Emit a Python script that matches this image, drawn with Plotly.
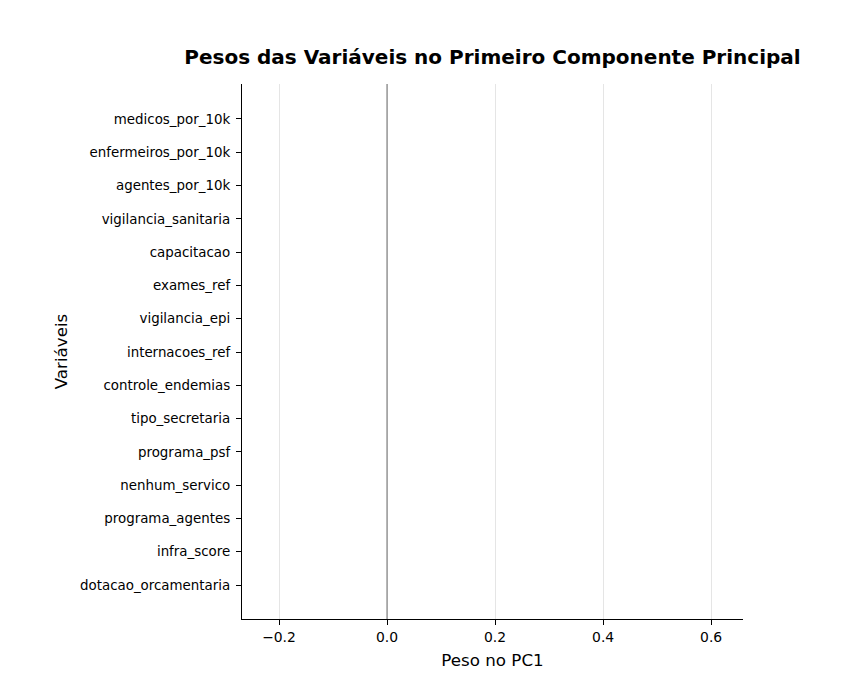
import plotly.graph_objects as go

variables = [
    "medicos_por_10k", "enfermeiros_por_10k", "agentes_por_10k",
    "vigilancia_sanitaria", "capacitacao", "exames_ref", "vigilancia_epi",
    "internacoes_ref", "controle_endemias", "tipo_secretaria", "programa_psf",
    "nenhum_servico", "programa_agentes", "infra_score", "dotacao_orcamentaria",
]
# No bars are visible in the reference; weights cannot be read
pesos = [None] * len(variables)

x_ticks = [-0.2, 0.0, 0.2, 0.4, 0.6]
x_ticklabels = ["\u22120.2", "0.0", "0.2", "0.4", "0.6"]

FONT = "DejaVu Sans"
W, H = 864, 696
OFF = 8  # page body margin
L, R, T, B = 242, 743, 84, 619  # target plot-area pixel bounds in the screenshot

fig = go.Figure()
fig.add_trace(go.Bar(
    x=pesos, y=list(range(len(variables))), orientation="h",
    marker_color="rgba(0,0,0,0)", showlegend=False,
))
fig.add_vline(x=0, line_color="#808080", line_width=1.2)

fig.update_layout(
    width=W, height=H,
    margin=dict(l=L - OFF, r=W + OFF - R, t=T - OFF, b=H + OFF - B, pad=0),
    paper_bgcolor="white", plot_bgcolor="white",
    font=dict(family=FONT, color="black"),
    title=dict(text="<b>Pesos das Variáveis no Primeiro Componente Principal</b>",
               x=((L + R) / 2 - OFF) / W, xanchor="center",
               y=1 - (57 - OFF) / H, yanchor="middle",
               font=dict(size=20, family=FONT)),
    xaxis=dict(
        range=[-0.2685, 0.659], tickvals=x_ticks, ticktext=x_ticklabels,
        showgrid=True, gridcolor="#e5e5e5", gridwidth=1,
        zeroline=False, showline=True, linecolor="black", linewidth=1.2,
        ticks="outside", ticklen=5, tickcolor="black", tickfont=dict(size=13.9),
        title=dict(text="Peso no PC1", font=dict(size=16.7), standoff=10),
    ),
    yaxis=dict(
        range=[15.02, -1.05], tickvals=list(range(len(variables))), ticktext=variables,
        showgrid=False, zeroline=False, showline=True, linecolor="black", linewidth=1.2,
        ticks="outside", ticklen=5, tickcolor="black", tickfont=dict(size=13.4),
        ticklabelstandoff=3,
        title=dict(text="Variáveis", font=dict(size=16.7), standoff=8),
    ),
)

fig.write_html("out.html")
